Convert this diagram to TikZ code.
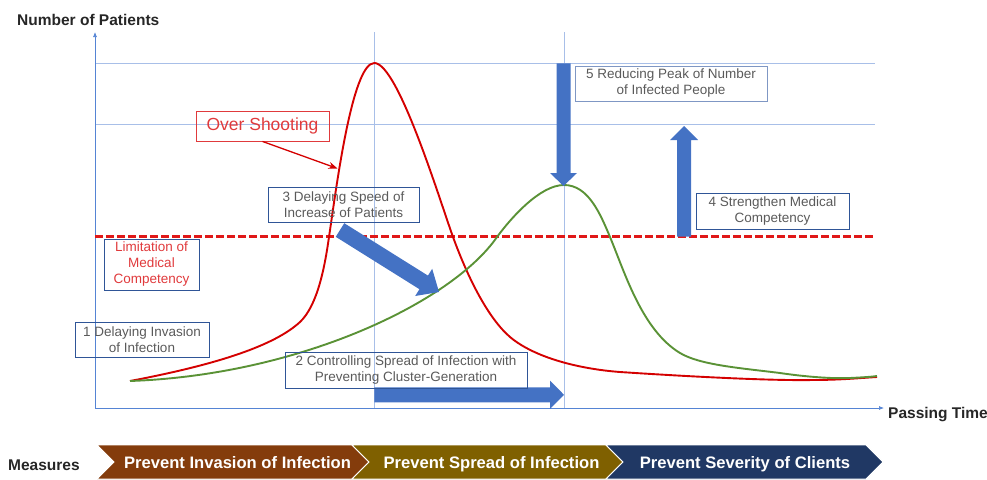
\documentclass[tikz,border=0pt]{standalone}
\usepackage{fontspec}
\setmainfont{Liberation Sans}
\usetikzlibrary{arrows.meta}
\definecolor{gridc}{HTML}{A8BFE8}
\definecolor{axisc}{HTML}{5584D4}
\definecolor{redc}{HTML}{D40000}
\definecolor{dashc}{HTML}{E01818}
\definecolor{osc}{HTML}{E03A3C}
\definecolor{greenc}{HTML}{5A9236}
\definecolor{bluefill}{HTML}{4472C4}
\definecolor{boxc}{HTML}{2F5597}
\definecolor{boxlight}{HTML}{7F97C4}
\definecolor{txtc}{HTML}{5A5A5A}
\definecolor{chA}{HTML}{843C0C}
\definecolor{chB}{HTML}{7F6000}
\definecolor{chC}{HTML}{203864}
\begin{document}
\begin{tikzpicture}[x=1pt,y=-1pt,
  gridline/.style={draw=gridc,line width=0.7pt},
  axisline/.style={draw=axisc,line width=0.7pt,-{Latex[length=5pt,width=4pt]}},
  curve/.style={line width=1.9pt},
  lbl/.style={inner sep=0pt,font=\fontsize{15.5}{18}\selectfont\bfseries,text=black!85},
  infobox/.style={draw=boxc,line width=0.9pt,inner sep=0pt,align=center,text=txtc,font=\fontsize{13.5}{16}\selectfont},
  blockarrow/.style={fill=bluefill,draw=none},
  chevron/.style={draw=white,line width=0.8pt},
  chtext/.style={inner sep=0pt,text=white,font=\fontsize{16.6}{18}\selectfont\bfseries}
]
\useasboundingbox (0,0) rectangle (987,479);

% grid
\draw[gridline] (95,63.3) -- (875,63.3);
\draw[gridline] (95,124.5) -- (875,124.5);
\draw[gridline] (374.3,32) -- (374.3,408);
\draw[gridline] (564,32) -- (564,408);

% axes
\coordinate (origin) at (95,408);
\coordinate (ytip) at (95,32);
\coordinate (xtip) at (884,408);
\draw[axisline] (origin) -- (ytip);
\draw[axisline] (origin) -- (xtip);

% limitation line
\coordinate (limL) at (95,236.5);
\coordinate (limR) at (875,236.5);
\draw[dashc,line width=2.3pt,dash pattern=on 7.5pt off 3.5pt] (limL) -- (limR);

% red curve (over shooting)
\draw[redc,curve] (130,381)
  .. controls (220,364) and (275,345) .. (300,322)
  .. controls (318,305) and (325,265) .. (329,237)
  .. controls (336,190) and (352,63) .. (374.3,63)
  .. controls (398,63) and (440,201) .. (453,237)
  .. controls (468,278) and (488,318) .. (510,337)
  .. controls (535,358) and (580,369) .. (620,372)
  .. controls (650,374) and (760,381) .. (813,380)
  .. controls (840,380) and (860,378) .. (877,377);
% green curve (flattened)
\draw[greenc,curve] (130,381)
  .. controls (300,375) and (452,302) .. (497,237)
  .. controls (511,218) and (540,185) .. (564,185)
  .. controls (588,185) and (600,213) .. (610,237)
  .. controls (625,273) and (642,330) .. (680,353)
  .. controls (700,365) and (740,368) .. (780,373)
  .. controls (800,376) and (830,379) .. (850,378)
  .. controls (860,377.5) and (870,377) .. (877,376);

% block arrows
% 3: diagonal
\fill[blockarrow] (344.25,223.2) -- (427.95,275.6) -- (432.2,268.8) -- (439,292) -- (415.2,296.0) -- (419.45,289.2) -- (335.75,236.8) -- cycle;
% 2: horizontal
\fill[blockarrow] (374.3,387.3) -- (550,387.3) -- (550,380.5) -- (564,394.8) -- (550,409) -- (550,402.3) -- (374.3,402.3) -- cycle;
% 5: down
\fill[blockarrow] (556.5,63.3) -- (570.5,63.3) -- (570.5,173) -- (577,173) -- (563.5,186) -- (550,173) -- (556.5,173) -- cycle;
% 4: up
\fill[blockarrow] (677,236.5) -- (691,236.5) -- (691,140) -- (698,140) -- (684,126) -- (670,140) -- (677,140) -- cycle;

% over shooting
\node[draw=osc,line width=0.9pt,inner sep=0pt,minimum width=133pt,minimum height=30pt,text=osc,font=\fontsize{17.5}{20}\selectfont] (os) at (262.5,126) {Over Shooting};
\coordinate (ostip) at (337.5,168.5);
\draw[redc,line width=1.3pt,-{Stealth[length=9pt,width=7pt]}] (os.south) -- (ostip);

% info boxes
\node[infobox,minimum width=151pt,minimum height=35pt] (b3) at (343.5,204.5) {3 Delaying Speed of\\Increase of Patients};
\node[infobox,minimum width=95pt,minimum height=51pt,text=osc] (lim) at (151.5,264.5) {Limitation of\\Medical\\Competency};
\node[infobox,minimum width=134pt,minimum height=35pt] (b1) at (142,339.5) {1 Delaying Invasion\\of Infection};
\node[infobox,minimum width=242pt,minimum height=36pt] (b2) at (406,370) {2 Controlling Spread of Infection with\\Preventing Cluster-Generation};
\node[infobox,draw=boxlight,minimum width=192pt,minimum height=35pt] (b5) at (671,83.5) {5 Reducing Peak of Number\\of Infected People};
\node[infobox,minimum width=153pt,minimum height=36pt] (b4) at (772.5,211) {4 Strengthen Medical\\Competency};

% axis labels
\node[lbl,anchor=base west] (ylab) at (17,25) {Number of Patients};
\node[lbl,anchor=base west] (xlab) at (888,418) {Passing Time};
\node[lbl,anchor=base west] (meas) at (8,470) {Measures};

% chevrons
\filldraw[fill=chA,chevron] (97,445) -- (352,445) -- (369,462) -- (352,479) -- (97,479) -- (114,462) -- cycle;
\filldraw[fill=chB,chevron] (352,445) -- (606,445) -- (623,462) -- (606,479) -- (352,479) -- (369,462) -- cycle;
\filldraw[fill=chC,chevron] (606,445) -- (866,445) -- (883,462) -- (866,479) -- (606,479) -- (623,462) -- cycle;
\node[chtext,anchor=base] (c1) at (237.5,468.5) {Prevent Invasion of Infection};
\node[chtext,anchor=base] (c2) at (491.5,468.5) {Prevent Spread of Infection};
\node[chtext,anchor=base] (c3) at (745,468.5) {Prevent Severity of Clients};
\end{tikzpicture}
\end{document}
